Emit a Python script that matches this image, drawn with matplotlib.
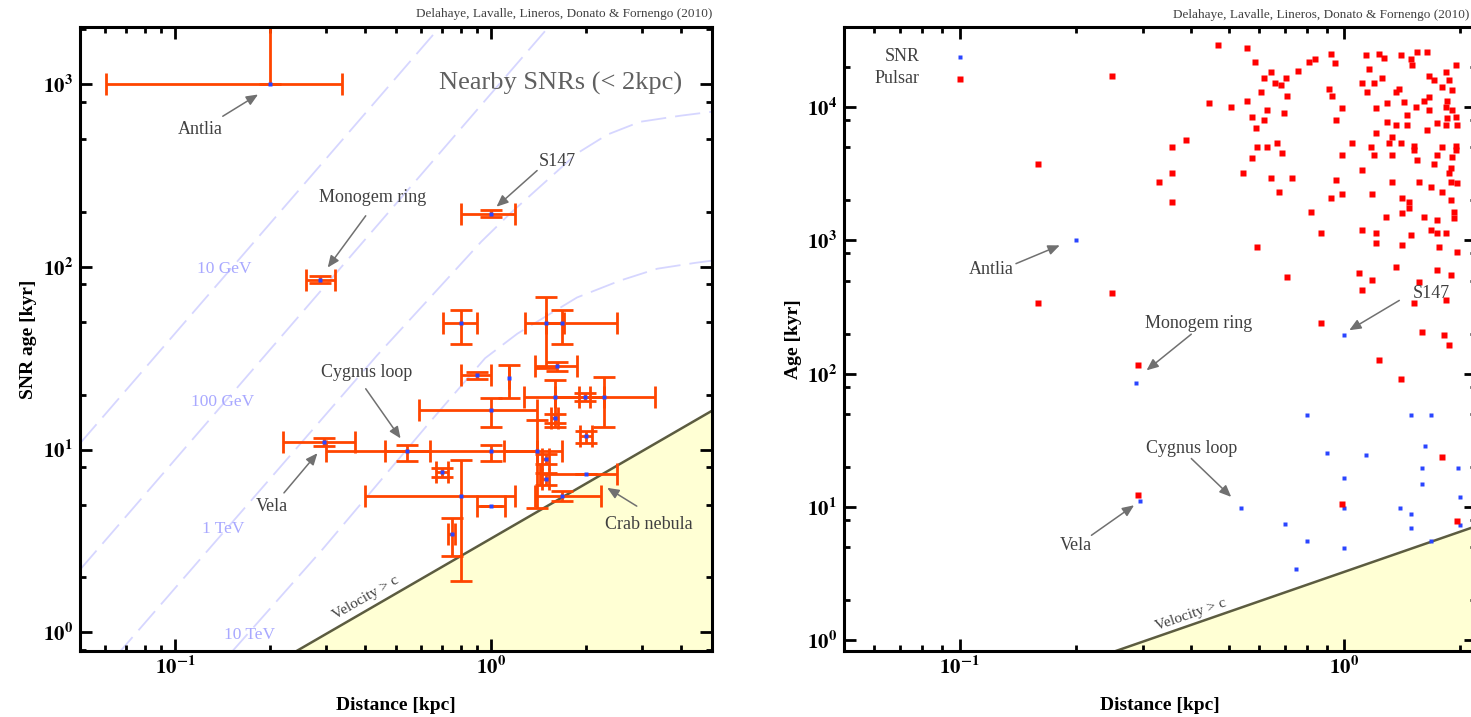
import numpy as np
import matplotlib
matplotlib.use('Agg')
import matplotlib.pyplot as plt
from matplotlib.ticker import LogLocator, FuncFormatter, NullFormatter

plt.rcParams['font.family'] = ['Liberation Serif', 'DejaVu Serif']
plt.rcParams['mathtext.fontset'] = 'stix'

# nearby SNRs: distance [kpc] and age [kyr] with their error ranges
snr_dist = [0.2, 1.0, 0.288, 0.295, 0.54, 0.80, 1.49, 1.68, 1.62, 0.90, 1.14, 1.59, 1.98, 2.27,
            1.0, 1.59, 2.0, 1.395, 1.0, 1.49, 1.49, 2.0, 0.70, 0.80, 1.68, 1.0, 0.75]
snr_dist_lo = [0.0606, 0.80, 0.26, 0.22, 0.46, 0.705, 1.28, 1.49, 1.38, 0.80, 1.14, 1.27, 1.90, 1.59,
               0.593, 1.55, 1.91, 1.10, 0.30, 1.45, 1.45, 1.43, 0.67, 0.40, 1.38, 0.905, 0.73]
snr_dist_hi = [0.337, 1.19, 0.32, 0.37, 0.64, 0.905, 1.70, 2.51, 1.87, 1.00, 1.14, 2.27, 2.06, 3.30,
               1.395, 1.63, 2.09, 1.68, 1.395, 1.53, 1.53, 2.51, 0.73, 1.19, 2.22, 1.11, 0.77]
snr_age = [1000, 195, 85, 11.0, 9.8, 49, 49, 49, 28.5, 25.5, 24.5, 19.5, 19.5, 19.5,
           16.5, 14.8, 11.8, 9.8, 9.8, 8.9, 6.9, 7.3, 7.5, 5.55, 5.55, 4.9, 3.45]
snr_age_lo = [1000, 186, 81, 10.5, 8.7, 38, 28, 38, 27, 24.3, 19.2, 13.2, 18.5, 13.2,
              13.2, 14.0, 10.9, 4.8, 8.7, 8.3, 6.4, 7.3, 7.05, 1.92, 5.2, 4.9, 2.6]
snr_age_hi = [3000, 204, 89, 11.5, 10.6, 58, 68, 58, 30, 26.7, 29, 24, 20.5, 25,
              19.2, 15.6, 12.7, 14.5, 10.6, 9.5, 7.4, 7.3, 7.95, 8.8, 5.9, 4.9, 4.2]

# pulsars: distance [kpc] and age [kyr]
psr_dist = [0.160, 0.160, 0.249, 0.249, 0.290, 0.290,
            0.468, 0.560, 0.587, 0.646, 0.620, 0.759, 0.706, 0.662, 0.686, 0.608, 0.711, 0.841, 0.81,
            0.925, 0.948, 0.914, 0.931, 1.141, 1.233, 1.270, 1.406, 1.493, 1.548, 1.644, 1.503, 1.161,
            1.255, 1.114, 1.196, 1.148, 1.365, 1.390, 1.432, 1.294, 1.538, 1.663, 1.663, 1.714, 1.954,
            1.841, 1.875, 1.798, 1.909, 1.663, 1.614, 1.853, 1.909, 1.841, 1.954, 1.853, 1.967, 1.841,
            1.745, 1.644,
            0.446, 0.508, 0.560, 0.631, 0.698, 0.577, 0.620, 0.590, 0.988, 0.953, 1.211, 1.294, 1.365,
            1.458, 1.458, 1.211, 1.333, 1.309, 1.406, 1.520, 1.520, 1.548, 1.798, 1.954, 1.954, 1.745,
            1.909, 1.714, 1.897, 1.175, 1.196, 1.049, 0.988, 1.114, 1.333, 1.333, 1.566, 1.683, 1.798,
            1.897, 1.967, 1.897, 1.931, 1.931, 1.875, 1.415, 1.475, 1.475, 1.415, 1.285, 1.614, 1.745,
            1.683, 1.745, 1.766, 1.841, 1.493, 1.415, 1.211, 1.211, 1.114, 1.967, 1.365, 1.745, 1.897,
            1.094, 1.182, 1.114, 1.566, 1.520, 1.841, 1.595, 1.820, 1.875, 1.233, 0.871, 0.711, 0.594,
            0.871, 0.821, 0.925, 0.988, 0.953, 1.182, 0.678, 0.733, 0.646, 0.546, 0.577, 0.594, 0.631,
            0.670, 0.690, 0.357, 0.388, 0.357, 0.329, 0.357, 1.406, 1.798, 0.988, 1.967]
psr_age = [3780, 337, 17300, 401, 116, 12.4,
           29100, 27600, 21700, 18300, 16700, 18600, 16700, 15300, 14600, 12900, 12200, 23200, 22000,
           25300, 21300, 13800, 12200, 24500, 24900, 23600, 24500, 23200, 25800, 25800, 20600, 19200,
           16700, 15100, 15100, 12900, 12900, 13800, 10900, 10700, 9960, 9460, 17300, 15900, 20600,
           18300, 15900, 14100, 13400, 11900, 11200, 11200, 9460, 9960, 8380, 8240, 7300, 7300,
           7550, 6700,
           10700, 9960, 11200, 9460, 8980, 8380, 7960, 6930, 9790, 7960, 9790, 7690, 7300,
           7300, 8680, 6360, 5930, 5350, 5350, 5160, 4740, 3990, 4990, 5160, 4740, 4350,
           4200, 3780, 3470, 4990, 4350, 5350, 4350, 3360, 4350, 2730, 2730, 2500, 2300,
           2730, 2680, 2000, 1630, 1470, 3190, 2070, 1930, 1740, 1600, 1490, 1490, 1420,
           1190, 1130, 888, 1130, 1090, 919, 1130, 951, 1190, 814, 628, 597, 547,
           566, 502, 423, 485, 337, 355, 205, 194, 163, 126, 239, 528, 888,
           1130, 1630, 2100, 2250, 2820, 2250, 2300, 2920, 2920, 3190, 4130, 4990, 4990,
           5350, 4500, 4990, 5640, 3190, 2730, 1930, 92, 23.6, 10.5, 7.9]

# propagation scale lines for several electron energies
gev10_dist = [0.05, 0.70]
gev10_age = [10.8, 2120]
gev100_dist = [0.05, 1.52]
gev100_age = [2.2, 2050]
tev1_dist = [0.065, 0.129, 0.195, 0.436, 0.627, 0.93, 1.15, 1.87, 2.33, 2.96, 3.96, 5.0]
tev1_age = [0.74, 2.9, 6.6, 32.8, 65, 137, 196, 417, 528, 621, 670, 705]
tev10_dist = [0.15, 0.292, 0.646, 0.957, 1.21, 1.87, 2.56, 3.35, 4.42, 5.0]
tev10_age = [0.77, 2.83, 14.4, 31.6, 43, 67.9, 84, 97.5, 105, 108]
energy_lines = [(gev10_dist, gev10_age, '10 GeV', 0.1426, 97),
                (gev100_dist, gev100_age, '100 GeV', 0.1416, 18.2),
                (tev1_dist, tev1_age, '1 TeV', 0.1416, 3.68),
                (tev10_dist, tev10_age, '10 TeV', 0.172, 0.967)]

# d = c t boundary
bound_dist = [0.05, 5.0]
bound_age = [0.163, 16.3]

credit = 'Delahaye, Lavalle, Lineros, Donato & Fornengo (2010)'
yellow = '#ffffd4'
orange = '#ff4500'
blue = '#2a45ff'
red = '#ff0000'
label_col = '#404040'
arrow_col = '#707070'

W, H = 1471, 717
fig = plt.figure(figsize=(W / 100, H / 100), dpi=100)


def px_box(left, top, right, bottom):
    return [left / W, 1 - bottom / H, (right - left) / W, (bottom - top) / H]


ax1 = fig.add_axes(px_box(80, 27, 712, 651))
ax2 = fig.add_axes(px_box(844, 27, 1476, 651))

log_fmt = FuncFormatter(lambda v, p: r'$\mathbf{10^{%d}}$' % round(np.log10(v)))


def style_axes(ax, xlim, ylim, ylabel, ylabel_x):
    ax.set_xscale('log')
    ax.set_yscale('log')
    ax.set_xlim(*xlim)
    ax.set_ylim(*ylim)
    for s in ax.spines.values():
        s.set_linewidth(2.2)
    ax.xaxis.set_major_locator(LogLocator(base=10, numticks=10))
    ax.yaxis.set_major_locator(LogLocator(base=10, numticks=10))
    ax.xaxis.set_minor_locator(LogLocator(base=10, subs=np.arange(2, 10), numticks=20))
    ax.yaxis.set_minor_locator(LogLocator(base=10, subs=(2, 5, 8), numticks=20))
    ax.xaxis.set_major_formatter(log_fmt)
    ax.yaxis.set_major_formatter(log_fmt)
    ax.xaxis.set_minor_formatter(NullFormatter())
    ax.yaxis.set_minor_formatter(NullFormatter())
    ax.tick_params(which='both', direction='in', top=True, right=True, width=2.0)
    ax.tick_params(which='major', length=8.5, labelsize=15)
    ax.tick_params(which='minor', length=4.5)
    ax.tick_params(axis='x', pad=4)
    ax.tick_params(axis='y', pad=5)
    ax.set_xlabel('Distance [kpc]', fontsize=14, fontweight='bold')
    ax.xaxis.set_label_coords(0.5, -0.074)
    ax.set_ylabel(ylabel, fontsize=14, fontweight='bold')
    ax.yaxis.set_label_coords(ylabel_x, 0.5)


def draw_boundary(ax):
    ax.fill_between(bound_dist, bound_age, 1e-3, color=yellow, lw=0, zorder=0.5)
    ax.plot(bound_dist, bound_age, color='#5c5c40', lw=1.8, zorder=1.5)
    p = ax.transData.transform(list(zip(bound_dist, bound_age)))
    ang = np.degrees(np.arctan2(p[1, 1] - p[0, 1], p[1, 0] - p[0, 0]))
    ax.text(0.40, 1.55, 'Velocity > c', rotation=ang, rotation_mode='anchor',
            ha='center', va='center', fontsize=11, color=label_col, zorder=3)


def arrow(ax, tail, head):
    ax.annotate('', xy=head, xytext=tail,
                arrowprops=dict(arrowstyle='-|>,head_length=0.7,head_width=0.3',
                                color=arrow_col, lw=1.1, shrinkA=0, shrinkB=0,
                                mutation_scale=10), zorder=4)


# ---- left panel: nearby SNRs with error bars
style_axes(ax1, (0.05, 5.0), (0.79, 2050), 'SNR age [kyr]', -0.068)
ax1.text(1.0, 1.012, credit, transform=ax1.transAxes, ha='right', va='bottom',
         fontsize=9.5, color=label_col)

draw_boundary(ax1)

for dist, age, name, lx, ly in energy_lines:
    ax1.plot(dist, age, color='#d6d6ff', lw=1.3, ls=(0, (14, 5)), zorder=1)
    ax1.text(lx, ly, name, color='#a8a8ff', fontsize=12.5, ha='center', va='center', zorder=1.2)

d = np.array(snr_dist)
t = np.array(snr_age)
xerr = [d - np.array(snr_dist_lo), np.array(snr_dist_hi) - d]
yerr = [t - np.array(snr_age_lo), np.array(snr_age_hi) - t]
ax1.errorbar(d, t, xerr=xerr, yerr=yerr, fmt='none', ecolor=orange, elinewidth=2.0,
             capsize=8, capthick=2.0, zorder=2)
ax1.plot(d, t, ls='none', marker='s', ms=3, color=blue, mec='none', zorder=3)

ax1.text(0.761, 0.909, 'Nearby SNRs (< 2kpc)', transform=ax1.transAxes, ha='center',
         va='center', fontsize=19, color='#606060')

left_notes = [('Antlia', (0.1205, 566), (0.1415, 666), (0.183, 876)),
              ('Monogem ring', (0.421, 239), (0.401, 190), (0.304, 99)),
              ('S147', (1.62, 375), (1.398, 336), (1.04, 213)),
              ('Cygnus loop', (0.404, 26.4), (0.401, 21.5), (0.517, 11.5)),
              ('Vela', (0.202, 4.88), (0.221, 5.79), (0.282, 9.55)),
              ('Crab nebula', (3.16, 3.9), (2.89, 4.9), (2.33, 6.17))]
for name, pos, tail, head in left_notes:
    ax1.text(pos[0], pos[1], name, ha='center', va='center', fontsize=13, color=label_col, zorder=4)
    arrow(ax1, tail, head)

# ---- right panel: SNRs and pulsars
style_axes(ax2, (0.05, 2.2), (0.83, 4.0e4), 'Age [kyr]', -0.0665)
# the panel runs past the figure edge, so the credit line is tied to the figure
fig.text(1469 / W, 1 - 21 / H, credit, ha='right', va='bottom', fontsize=9.5, color=label_col)

draw_boundary(ax2)

ax2.plot(snr_dist, snr_age, ls='none', marker='s', ms=3, color=blue, mec='none', zorder=3)
ax2.plot(psr_dist, psr_age, ls='none', marker='s', ms=4.2, color=red, mec='none', zorder=3.2)

# key
ax2.text(0.120, 0.952, 'SNR', transform=ax2.transAxes, ha='right', va='center',
         fontsize=13, color=label_col)
ax2.text(0.120, 0.917, 'Pulsar', transform=ax2.transAxes, ha='right', va='center',
         fontsize=13, color=label_col)
ax2.plot([0.1835], [0.952], transform=ax2.transAxes, marker='s', ms=3, color=blue, mec='none')
ax2.plot([0.1835], [0.917], transform=ax2.transAxes, marker='s', ms=4.2, color=red, mec='none')

right_notes = [('Antlia', (0.121, 602), (0.140, 670), (0.182, 919)),
               ('Monogem ring', (0.417, 239), (0.40, 198), (0.306, 106)),
               ('S147', (1.68, 401), (1.39, 355), (1.03, 212)),
               ('Cygnus loop', (0.401, 27.6), (0.40, 23.1), (0.508, 11.9)),
               ('Vela', (0.20, 5.16), (0.22, 6.13), (0.284, 10.3))]
for name, pos, tail, head in right_notes:
    ax2.text(pos[0], pos[1], name, ha='center', va='center', fontsize=13, color=label_col, zorder=4)
    arrow(ax2, tail, head)

fig.savefig('out.png', dpi=100)
